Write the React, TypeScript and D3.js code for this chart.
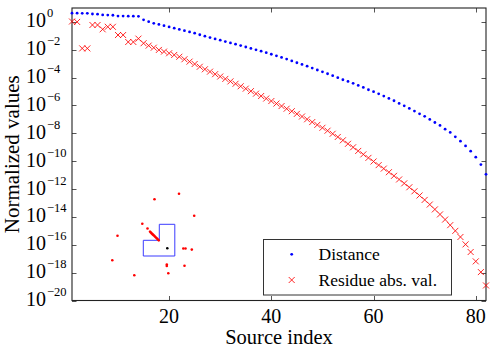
import React from 'react';
import * as d3 from 'd3';

const W = 497;
const H = 349;
const margin = {top: 8, right: 11, bottom: 48.5, left: 72};

// log10 of the plotted values, one entry per source (1..82)
const distanceExp = [
  0.63, 0.63, 0.62, 0.62, 0.57, 0.56, 0.50, 0.49, 0.48, 0.42,
  0.42, 0.41, 0.41, 0.40, 0.15, 0.02, -0.10, -0.18, -0.27, -0.36,
  -0.45, -0.54, -0.63, -0.72, -0.81, -0.92, -1.02, -1.12, -1.22, -1.31,
  -1.41, -1.51, -1.60, -1.70, -1.80, -1.90, -2.00, -2.10, -2.21, -2.32,
  -2.43, -2.55, -2.67, -2.80, -2.93, -3.05, -3.18, -3.31, -3.45, -3.58,
  -3.72, -3.86, -4.00, -4.15, -4.27, -4.41, -4.56, -4.70, -4.87, -5.01,
  -5.16, -5.32, -5.49, -5.66, -5.85, -6.02, -6.21, -6.40, -6.60, -6.78,
  -7.00, -7.22, -7.43, -7.70, -7.93, -8.25, -8.56, -8.90, -9.28, -9.71,
  -10.24, -10.94
];

const residueExp = [
  0.03, 0.00, -1.90, -1.90, -0.22, -0.22, -0.53, -0.35, -0.35, -0.94,
  -0.94, -1.44, -1.44, -1.20, -1.53, -1.70, -1.85, -2.01, -2.13, -2.25,
  -2.37, -2.50, -2.68, -2.85, -3.02, -3.22, -3.40, -3.57, -3.75, -3.92,
  -4.09, -4.27, -4.44, -4.62, -4.79, -4.97, -5.15, -5.32, -5.50, -5.68,
  -5.86, -6.04, -6.23, -6.41, -6.60, -6.79, -6.99, -7.19, -7.39, -7.60,
  -7.81, -8.03, -8.26, -8.50, -8.75, -9.00, -9.26, -9.51, -9.76, -10.02,
  -10.28, -10.53, -10.79, -11.05, -11.31, -11.59, -11.87, -12.16, -12.46, -12.78,
  -13.11, -13.46, -13.82, -14.19, -14.59, -15.00, -15.44, -15.97, -16.52, -17.19,
  -17.96, -18.92
];

const xTicks = [20, 40, 60, 80];
const yTickExps = [0, -2, -4, -6, -8, -10, -12, -14, -16, -18, -20];

const seriesNames = ['Distance', 'Residue abs. val.'];

// little sketch of the source layout drawn inside the axes (own unit coords)
const insetOutline: [number, number][] = [
  [-0.8, 2.4], [0.75, 2.4], [0.75, -0.77], [-2.4, -0.77], [-2.4, 0.8], [-0.8, 0.8]
];
const insetSources: [number, number][] = [
  [-2.5, 2.46], [-1.98, 1.98], [-4.98, 1.26], [-5.5, -1.19], [-3.3, -2.69],
  [0.1, -2.5], [-0.05, -1.62], [-0.05, -1.77], [1.6, -0.02], [1.82, -0.02],
  [2.45, -0.13], [1.72, -1.75], [2.69, 3.26], [-1.28, 4.9], [1.17, 5.46]
];
const insetLine: [number, number][] = [
  [-1.73, 1.66], [-1.55, 1.48], [-1.37, 1.31], [-1.2, 1.14], [-1.02, 0.97], [-0.85, 0.8]
];
const insetTarget: [number, number] = [0, 0];

const serif = 'Liberation Serif, DejaVu Serif, serif';

class SourcePlot extends React.Component {
  svgRef = React.createRef<SVGSVGElement>();

  componentDidMount() {
    const svg = d3.select(this.svgRef.current);
    svg.selectAll('*').remove();

    const x = d3.scaleLinear().domain([1, 82]).range([margin.left, W - margin.right]);
    const y = d3.scaleLog().domain([1e-20, 1e1]).range([H - margin.bottom, margin.top]);
    const x0 = margin.left, x1 = W - margin.right;
    const y0 = H - margin.bottom, y1 = margin.top;

    const idx = d3.range(1, distanceExp.length + 1);
    const dist = idx.map((i) => ({i, v: Math.pow(10, distanceExp[i - 1])}));
    const res = idx.map((i) => ({i, v: Math.pow(10, residueExp[i - 1])}));

    svg.append('rect')
      .attr('width', W).attr('height', H).attr('fill', '#fff');

    // ticks (inward, on all four sides)
    const ticks = svg.append('g').attr('stroke', '#555').attr('stroke-width', 1);
    xTicks.forEach((t) => {
      const px = Math.round(x(t)) + 0.5;
      ticks.append('line').attr('x1', px).attr('x2', px).attr('y1', y0).attr('y2', y0 - 4.5);
      ticks.append('line').attr('x1', px).attr('x2', px).attr('y1', y1).attr('y2', y1 + 4.5);
    });
    yTickExps.forEach((e) => {
      const py = Math.round(y(Math.pow(10, e))) + 0.5;
      ticks.append('line').attr('x1', x0).attr('x2', x0 + 4.5).attr('y1', py).attr('y2', py);
      ticks.append('line').attr('x1', x1).attr('x2', x1 - 4.5).attr('y1', py).attr('y2', py);
    });

    // box
    svg.append('rect')
      .attr('x', x0).attr('y', y1)
      .attr('width', x1 - x0).attr('height', y0 - y1)
      .attr('fill', 'none').attr('stroke', '#222').attr('stroke-width', 1.1);

    // tick labels
    svg.append('g').selectAll('text').data(xTicks).enter().append('text')
      .attr('x', (d) => x(d)).attr('y', y0 + 22)
      .attr('text-anchor', 'middle')
      .style('font-family', serif).attr('font-size', 20)
      .text((d) => d);

    const yl = svg.append('g').style('font-family', serif);
    yTickExps.forEach((e) => {
      const t = yl.append('text')
        .attr('x', 26).attr('y', y(Math.pow(10, e)) + 5.5)
        .attr('font-size', 20)
        .text('10');
      t.append('tspan')
        .attr('dy', -10).attr('dx', 1).attr('font-size', 12.5)
        .text(e < 0 ? '\u2212' + (-e) : String(e));
    });

    // axis titles
    svg.append('text')
      .attr('x', (x0 + x1) / 2).attr('y', H - 5)
      .attr('text-anchor', 'middle')
      .style('font-family', serif).attr('font-size', 20.5)
      .text('Source index');
    svg.append('text')
      .attr('transform', 'translate(19,' + (y0 + y1) / 2 + ') rotate(-90)')
      .attr('text-anchor', 'middle')
      .style('font-family', serif).attr('font-size', 21)
      .text('Normalized values');

    // series
    svg.append('g').selectAll('circle').data(dist).enter().append('circle')
      .attr('cx', (d) => x(d.i)).attr('cy', (d) => y(d.v))
      .attr('r', 1.4).attr('fill', '#0000ff');

    const cross = (g, cx, cy, s) => {
      g.append('path')
        .attr('d', `M${cx - s},${cy - s}L${cx + s},${cy + s}M${cx - s},${cy + s}L${cx + s},${cy - s}`);
    };
    const crosses = svg.append('g').attr('stroke', '#ff0000').attr('stroke-width', 0.85).attr('fill', 'none');
    res.forEach((d) => cross(crosses, x(d.i), y(d.v), 3));

    // inset sketch
    const ix = d3.scaleLinear().domain([-6, 3]).range([107.3, 197.3]);
    const iy = d3.scaleLinear().domain([-3, 6]).range([278.3, 188.3]);
    const inset = svg.append('g');
    inset.append('path')
      .attr('d', d3.line()(insetOutline.map((p) => [ix(p[0]), iy(p[1])])) + 'Z')
      .attr('fill', 'none').attr('stroke', '#3b3bff').attr('stroke-width', 1);
    inset.append('path')
      .attr('d', d3.line()(insetLine.map((p) => [ix(p[0]), iy(p[1])])))
      .attr('stroke', '#ff0000').attr('stroke-width', 2.6).attr('stroke-linecap', 'round');
    inset.selectAll('circle.src').data(insetSources).enter().append('circle')
      .attr('cx', (d) => ix(d[0])).attr('cy', (d) => iy(d[1]))
      .attr('r', 1.3).attr('fill', '#ff0000');
    inset.append('circle')
      .attr('cx', ix(insetTarget[0])).attr('cy', iy(insetTarget[1]))
      .attr('r', 1.3).attr('fill', '#000');

    // legend
    const lg = svg.append('g');
    lg.append('rect')
      .attr('x', 263.5).attr('y', 239.5).attr('width', 188).attr('height', 55.5)
      .attr('fill', '#fff').attr('stroke', '#333').attr('stroke-width', 1);
    lg.append('circle').attr('cx', 291.7).attr('cy', 254.3).attr('r', 1.4).attr('fill', '#0000ff');
    const lgCross = lg.append('g').attr('stroke', '#ff0000').attr('stroke-width', 0.85);
    cross(lgCross, 291.7, 280, 3);
    seriesNames.forEach((name, k) => {
      lg.append('text')
        .attr('x', 318.5).attr('y', k === 0 ? 260 : 285.5)
        .style('font-family', serif).attr('font-size', 17.5)
        .style('white-space', 'pre')
        .text(name);
    });
  }

  render() {
    return (
      <svg ref={this.svgRef} width={W} height={H}
        style={{position: 'absolute', left: 0, top: 0, display: 'block'}} />
    );
  }
}

export default function App() {
  return <SourcePlot />;
}
